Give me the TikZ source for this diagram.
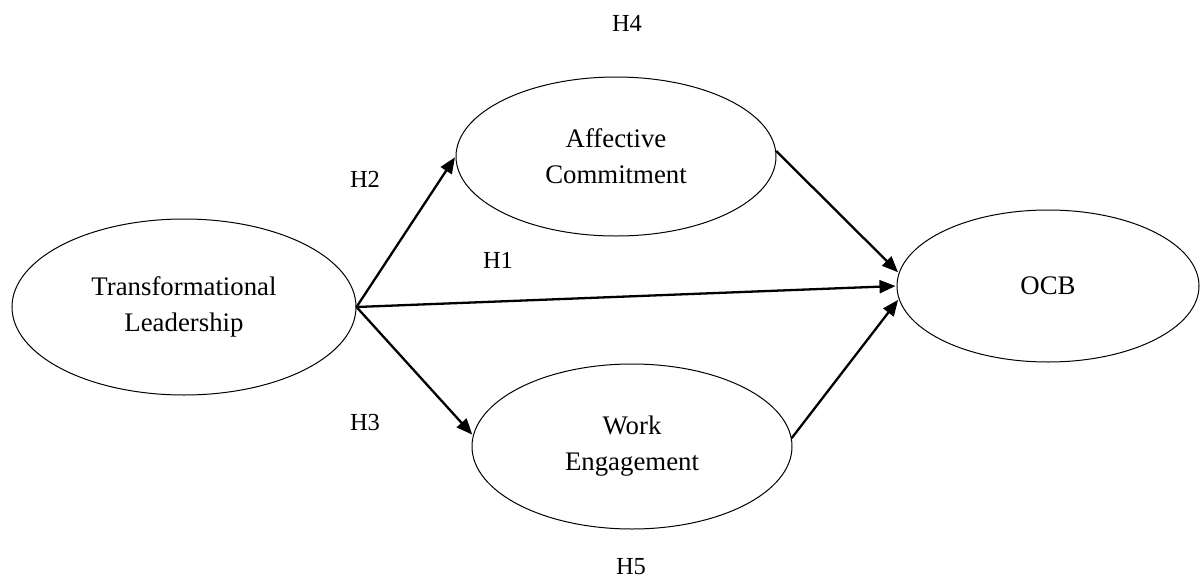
\documentclass[tikz,border=0pt]{standalone}
\usepackage{fontspec}
\setmainfont{Liberation Serif}
\usetikzlibrary{shapes.geometric,arrows.meta}
\begin{document}
\begin{tikzpicture}[x=1pt,y=1pt,
  construct/.style={draw, line width=1pt, ellipse, inner sep=0pt, align=center,
    font=\fontsize{26.8}{36}\selectfont},
  hyp/.style={font=\fontsize{24.5}{28}\selectfont, inner sep=0pt},
  path/.style={line width=2.3pt, -{Triangle[length=16pt,width=13pt]}, shorten >=1pt}]
\useasboundingbox (0,0) rectangle (1200,-581);
\node[construct, minimum width=344pt, minimum height=176pt] (TL) at (184,-307) {Transformational\\Leadership};
\node[construct, minimum width=320pt, minimum height=159pt] (AC) at (616,-156.5) {Affective\\Commitment};
\node[construct, minimum width=320pt, minimum height=165pt] (WE) at (632,-446.5) {Work\\Engagement};
\node[construct, minimum width=302pt, minimum height=152pt] (OCB) at (1048,-286) {OCB};
\node[hyp] (H4) at (627,-23) {H4};
\node[hyp] (H2) at (365,-179) {H2};
\node[hyp] (H1) at (498,-260) {H1};
\node[hyp] (H3) at (365,-423) {H3};
\node[hyp] (H5) at (631,-567) {H5};
\draw[path] (TL.east) -- (AC.180);
\draw[path] (TL.east) -- (OCB.west);
\draw[path] (TL.east) -- (WE.176);
\draw[path] (AC.2) -- (OCB.175);
\draw[path] (WE.3) -- (OCB.185);
\end{tikzpicture}
\end{document}
